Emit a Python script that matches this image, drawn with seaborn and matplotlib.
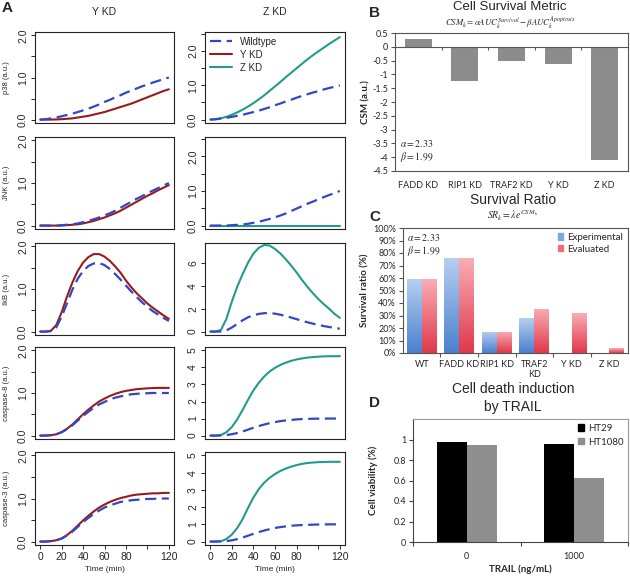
import numpy as np
import pandas as pd
import seaborn as sns
import matplotlib.pyplot as plt
from matplotlib.colors import LinearSegmentedColormap, to_hex
from matplotlib.lines import Line2D
from matplotlib.patches import Patch
from matplotlib.ticker import FuncFormatter, PercentFormatter

# --- panel A: simulated time courses (a.u.) ---
time_min = [0, 5, 10, 15, 20, 25, 30, 35, 40, 45, 50, 55, 60,
            65, 70, 75, 80, 85, 90, 95, 100, 105, 110, 115, 120]

wt_p38 = [0.00, 0.01, 0.03, 0.05, 0.08, 0.11, 0.14, 0.18, 0.22, 0.26, 0.31, 0.36, 0.42,
          0.47, 0.53, 0.58, 0.64, 0.69, 0.74, 0.79, 0.83, 0.88, 0.92, 0.96, 1.00]
ykd_p38 = [0.00, 0.00, 0.00, 0.005, 0.01, 0.02, 0.03, 0.05, 0.07, 0.09, 0.12, 0.15, 0.18,
           0.22, 0.26, 0.30, 0.34, 0.38, 0.43, 0.48, 0.53, 0.58, 0.63, 0.68, 0.72]
zkd_p38 = [0.00, 0.01, 0.04, 0.08, 0.14, 0.21, 0.29, 0.38, 0.48, 0.59, 0.71, 0.84, 0.97,
           1.10, 1.24, 1.37, 1.50, 1.63, 1.76, 1.88, 1.99, 2.10, 2.21, 2.31, 2.41]

wt_jnk = [0.00, 0.00, 0.00, 0.00, 0.01, 0.02, 0.03, 0.05, 0.08, 0.11, 0.15, 0.19, 0.24,
          0.29, 0.35, 0.42, 0.49, 0.56, 0.63, 0.69, 0.76, 0.82, 0.88, 0.94, 1.00]
ykd_jnk = [0.00, 0.00, 0.00, 0.00, 0.00, 0.01, 0.02, 0.03, 0.05, 0.08, 0.11, 0.15, 0.19,
           0.24, 0.29, 0.35, 0.42, 0.49, 0.56, 0.63, 0.70, 0.76, 0.83, 0.89, 0.95]
zkd_jnk = [0.00, 0.00, 0.00, 0.00, 0.00, 0.00, 0.00, 0.00, 0.00, 0.00, 0.00, 0.00, 0.00,
           0.00, 0.00, 0.00, 0.00, 0.00, 0.00, 0.00, 0.00, 0.00, 0.00, 0.00, 0.00]

wt_ikb = [0.00, 0.00, 0.01, 0.10, 0.35, 0.66, 0.98, 1.24, 1.42, 1.54, 1.60, 1.61, 1.56,
          1.47, 1.35, 1.22, 1.08, 0.94, 0.81, 0.69, 0.58, 0.48, 0.40, 0.32, 0.25]
ykd_ikb = [0.00, 0.00, 0.02, 0.15, 0.45, 0.82, 1.15, 1.42, 1.62, 1.75, 1.82, 1.82, 1.76,
           1.66, 1.53, 1.38, 1.20, 1.04, 0.90, 0.78, 0.66, 0.56, 0.47, 0.38, 0.30]
zkd_ikb = [0.00, 0.00, 0.15, 1.10, 2.60, 3.90, 5.00, 6.00, 6.80, 7.30, 7.55, 7.50, 7.20,
           6.80, 6.30, 5.75, 5.15, 4.50, 3.90, 3.35, 2.85, 2.40, 2.00, 1.55, 1.20]

wt_casp8 = [0.00, 0.00, 0.01, 0.03, 0.08, 0.15, 0.24, 0.35, 0.46, 0.56, 0.65, 0.73, 0.79,
            0.85, 0.89, 0.92, 0.95, 0.97, 0.98, 0.99, 0.995, 1.00, 1.00, 1.00, 1.00]
ykd_casp8 = [0.00, 0.00, 0.01, 0.03, 0.08, 0.16, 0.26, 0.38, 0.50, 0.61, 0.71, 0.80, 0.87,
             0.93, 0.98, 1.02, 1.05, 1.07, 1.09, 1.10, 1.11, 1.115, 1.12, 1.12, 1.12]
zkd_casp8 = [0.00, 0.00, 0.03, 0.20, 0.50, 0.95, 1.50, 2.10, 2.65, 3.10, 3.47, 3.76, 3.98,
             4.15, 4.28, 4.39, 4.47, 4.53, 4.58, 4.61, 4.63, 4.65, 4.66, 4.66, 4.66]

wt_casp3 = [0.00, 0.00, 0.01, 0.03, 0.07, 0.14, 0.23, 0.34, 0.45, 0.55, 0.64, 0.72, 0.79,
            0.84, 0.88, 0.92, 0.94, 0.96, 0.97, 0.98, 0.99, 0.99, 1.00, 1.00, 1.00]
ykd_casp3 = [0.00, 0.00, 0.01, 0.03, 0.07, 0.15, 0.25, 0.37, 0.49, 0.60, 0.70, 0.79, 0.86,
             0.92, 0.97, 1.01, 1.04, 1.07, 1.09, 1.10, 1.11, 1.12, 1.12, 1.13, 1.13]
zkd_casp3 = [0.00, 0.00, 0.02, 0.15, 0.40, 0.78, 1.30, 1.95, 2.55, 3.05, 3.42, 3.70, 3.92,
             4.10, 4.24, 4.35, 4.44, 4.51, 4.56, 4.59, 4.61, 4.62, 4.63, 4.63, 4.63]

# --- panel B: cell survival metric ---
csm_labels = ['FADD KD', 'RIP1 KD', 'TRAF2 KD', 'Y KD', 'Z KD']
csm_values = [0.28, -1.25, -0.52, -0.62, -4.10]

# --- panel C: survival ratio ---
sr_labels = ['WT', 'FADD KD', 'RIP1 KD', 'TRAF2\nKD', 'Y KD', 'Z KD']
sr_experimental = [0.59, 0.76, 0.17, 0.28, 0.0, 0.0]
sr_evaluated = [0.59, 0.76, 0.17, 0.355, 0.32, 0.04]

# --- panel D: TRAIL ---
trail_doses = ['0', '1000']
ht29_viability = [0.975, 0.96]
ht1080_viability = [0.945, 0.625]

sns.set_theme(style="ticks")
plt.rcParams['font.family'] = ['Liberation Sans', 'DejaVu Sans']
plt.rcParams['mathtext.fontset'] = 'stix'
excel_font = ['Lato', 'DejaVu Sans']

W, H = 630, 581
fig = plt.figure(figsize=(6.3, 5.81), dpi=100)


def px_axes(left, top, right, bottom):
    return fig.add_axes([left / W, 1 - bottom / H, (right - left) / W, (bottom - top) / H])


def fig_text(x, y, s, **kw):
    kw.setdefault('ha', 'center')
    kw.setdefault('va', 'center')
    fig.text(x / W, 1 - y / H, s, **kw)


# ================= panel A =================
wt_color = '#3347c4'
ykd_color = '#961c1c'
zkd_color = '#259a8c'
dash = (0, (5, 2.5))

a_rows = [
    ('p38 (a.u.)', wt_p38, ykd_p38, zkd_p38),
    ('JNK (a.u.)', wt_jnk, ykd_jnk, zkd_jnk),
    ('IkB (a.u.)', wt_ikb, ykd_ikb, zkd_ikb),
    ('caspase-8 (a.u.)', wt_casp8, ykd_casp8, zkd_casp8),
    ('caspase-3 (a.u.)', wt_casp3, ykd_casp3, zkd_casp3),
]
row_px = [(32, 123), (137, 229), (243, 335), (347, 439), (452, 545)]
left_scale = ((-0.08, 2.08), [0, 0.5, 1, 1.5, 2], ['0.0', '', '1.0', '', '2.0'])
right_scales = [
    ((-0.1, 2.56), [0, 0.5, 1, 1.5, 2, 2.5], ['0.0', '', '1.0', '', '2.0', '']),
    ((-0.1, 2.56), [0, 0.5, 1, 1.5, 2, 2.5], ['0.0', '', '1.0', '', '2.0', '']),
    ((-0.3, 7.72), [0, 2, 4, 6], ['0', '2', '4', '6']),
    ((-0.2, 5.2), [0, 1, 2, 3, 4, 5], ['0', '1', '2', '3', '4', '5']),
    ((-0.2, 5.2), [0, 1, 2, 3, 4, 5], ['0', '1', '2', '3', '4', '5']),
]

for i, (ylab, wt, ykd, zkd) in enumerate(a_rows):
    top, bot = row_px[i]
    axL = px_axes(35, top, 174, bot)
    axR = px_axes(205, top, 345, bot)
    panels = [(axL, ykd, ykd_color, left_scale), (axR, zkd, zkd_color, right_scales[i])]
    for ax, other, col, (ylim, yt, ytl) in panels:
        sns.lineplot(x=time_min, y=other, color=col, linewidth=1.5, ax=ax)
        sns.lineplot(x=time_min, y=wt, color=wt_color, linewidth=1.6, linestyle=dash, ax=ax)
        ax.set_xlim(-4.8, 124.8)
        ax.set_ylim(*ylim)
        ax.set_yticks(yt)
        ax.set_yticklabels(ytl)
        ax.tick_params(axis='y', labelrotation=90, length=3, width=0.7, pad=2, labelsize=7.5)
        for lbl in ax.get_yticklabels():
            lbl.set_va('center')
        for sp in ax.spines.values():
            sp.set_color('#222222')
            sp.set_linewidth(0.8)
        ax.set_ylabel('')
        if i == 4:
            ax.set_xticks([0, 20, 40, 60, 80, 100, 120])
            ax.set_xticklabels(['0', '20', '40', '60', '80', '', '120'])
            ax.tick_params(axis='x', length=3, width=0.7, pad=2, labelsize=7.5)
            ax.set_xlabel('Time (min)', fontsize=6, labelpad=3)
        else:
            ax.set_xticks([])
    axL.set_ylabel(ylab, fontsize=5.5)
    axL.yaxis.set_label_coords(-0.18, 0.5)
    if i == 0:
        handles = [Line2D([], [], color=wt_color, lw=1.6, linestyle=dash),
                   Line2D([], [], color=ykd_color, lw=1.5),
                   Line2D([], [], color=zkd_color, lw=1.5)]
        axR.legend(handles, ['Wildtype', 'Y KD', 'Z KD'], loc='upper left', frameon=False,
                   fontsize=7, handlelength=2.3, handletextpad=0.8, labelspacing=0.3,
                   borderaxespad=0.3, borderpad=0.2)

fig_text(7, 8, 'A', fontsize=11, fontweight='bold')
fig_text(104, 12, 'Y KD', fontsize=7.5)
fig_text(275, 12, 'Z KD', fontsize=7.5)

# ================= panel B =================
frame_col = '#555555'
axB = px_axes(395, 33, 628, 171)
sns.barplot(x=csm_labels, y=csm_values, color='#8c8c8c', saturation=1, width=0.58,
            linewidth=0, ax=axB)
axB.axhline(0, color=frame_col, lw=0.8)
axB.vlines([0.5, 1.5, 2.5, 3.5], -0.1, 0, color=frame_col, lw=0.8)
axB.set_xlim(-0.5, 4.5)
axB.set_ylim(-4.5, 0.5)
axB.set_yticks([0.5, 0, -0.5, -1, -1.5, -2, -2.5, -3, -3.5, -4, -4.5])
axB.yaxis.set_major_formatter(FuncFormatter(lambda v, p: f'{v:g}'))
axB.tick_params(axis='x', length=0, pad=7, labelsize=6.5, labelfontfamily=excel_font)
axB.tick_params(axis='y', length=3, width=0.8, color=frame_col, pad=2, labelsize=6.5,
                labelfontfamily=excel_font)
axB.set_ylabel('CSM (a.u.)', fontsize=7, fontweight='bold', family=excel_font)
axB.yaxis.set_label_coords(-0.107, 0.5)
for sp in axB.spines.values():
    sp.set_color(frame_col)
    sp.set_linewidth(0.8)
axB.text(0.02, 0.05, r'$\alpha = 2.33$' + '\n' + r'$\beta = 1.99$', transform=axB.transAxes,
         fontsize=7, ha='left', va='bottom', linespacing=1.1)

fig_text(375, 13, 'B', fontsize=11, fontweight='bold')
fig_text(510, 7, 'Cell Survival Metric', fontsize=9.5)
fig_text(510, 23.5, r'$CSM_k = \alpha AUC_k^{Survival} - \beta AUC_k^{Apoptosis}$', fontsize=6.3)

# ================= panel C =================
sr_df = pd.DataFrame({
    'genotype': sr_labels * 2,
    'series': ['Experimental'] * len(sr_labels) + ['Evaluated'] * len(sr_labels),
    'ratio': sr_experimental + sr_evaluated,
})
sr_palette = {'Experimental': '#7fa6de', 'Evaluated': '#ec6f7b'}
axC = px_axes(403, 228, 628, 353)
sns.barplot(data=sr_df, x='genotype', y='ratio', hue='series', palette=sr_palette,
            saturation=1, linewidth=0, legend=False, ax=axC)

grad = np.linspace(0, 1, 128).reshape(-1, 1)
grad_maps = {
    to_hex(sr_palette['Experimental']): LinearSegmentedColormap.from_list('exp', ['#4a80cf', '#b6cff0']),
    to_hex(sr_palette['Evaluated']): LinearSegmentedColormap.from_list('ev', ['#e0384a', '#f9adb5']),
}
for patch in list(axC.patches):
    h = patch.get_height()
    key = to_hex(patch.get_facecolor())
    if h <= 0 or key not in grad_maps:
        continue
    x0 = patch.get_x()
    im = axC.imshow(grad, cmap=grad_maps[key], origin='lower', aspect='auto',
                    extent=[x0, x0 + patch.get_width(), 0, h], zorder=patch.get_zorder() + 0.1)
    im.set_clip_path(patch)

axC.set_xlim(-0.5, 5.5)
axC.set_ylim(0, 1)
axC.set_aspect('auto')
axC.set_yticks([0, 0.1, 0.2, 0.3, 0.4, 0.5, 0.6, 0.7, 0.8, 0.9, 1.0])
axC.yaxis.set_major_formatter(PercentFormatter(xmax=1, decimals=0))
axC.set_xticks([0.5, 1.5, 2.5, 3.5, 4.5], minor=True)
axC.tick_params(axis='x', which='major', length=0, pad=5, labelsize=6.5,
                labelfontfamily=excel_font)
axC.tick_params(axis='x', which='minor', length=3, width=0.8, color=frame_col)
axC.tick_params(axis='y', length=3, width=0.8, color=frame_col, pad=2, labelsize=6.5,
                labelfontfamily=excel_font)
axC.set_xlabel('')
axC.set_ylabel('Survival ratio (%)', fontsize=7, fontweight='bold', family=excel_font)
axC.yaxis.set_label_coords(-0.147, 0.5)
for sp in axC.spines.values():
    sp.set_color(frame_col)
    sp.set_linewidth(0.8)
axC.text(0.02, 0.97, r'$\alpha = 2.33$' + '\n' + r'$\beta = 1.99$', transform=axC.transAxes,
         fontsize=7, ha='left', va='top', linespacing=1.1)
c_handles = [Patch(color='#7fa6de'), Patch(color='#ec6f7b')]
axC.legend(c_handles, ['Experimental', 'Evaluated'], loc='upper right', frameon=False,
           prop={'family': excel_font, 'size': 7}, handlelength=0.6, handleheight=0.6,
           handletextpad=0.4, labelspacing=0.3, borderaxespad=0.3, borderpad=0.2)

fig_text(375, 217, 'C', fontsize=11, fontweight='bold')
fig_text(513, 200, 'Survival Ratio', fontsize=10)
fig_text(513, 216, r'$SR_k = \lambda e^{CSM_k}$', fontsize=7)

# ================= panel D =================
trail_df = pd.DataFrame({
    'dose': trail_doses * 2,
    'line': ['HT29'] * 2 + ['HT1080'] * 2,
    'viability': ht29_viability + ht1080_viability,
})
axD = px_axes(413, 419, 628, 542)
sns.barplot(data=trail_df, x='dose', y='viability', hue='line',
            palette=['#000000', '#8e8e8e'], saturation=1, width=0.56, linewidth=0,
            legend=False, ax=axD)
axD.set_xlim(-0.5, 1.5)
axD.set_ylim(0, 1.2)
axD.set_yticks([0, 0.2, 0.4, 0.6, 0.8, 1.0])
axD.yaxis.set_major_formatter(FuncFormatter(lambda v, p: f'{v:g}'))
axD.set_xticks([-0.5, 0.5, 1.5], minor=True)
axD.tick_params(axis='x', which='major', length=0, pad=7, labelsize=6.5,
                labelfontfamily=excel_font)
axD.tick_params(axis='x', which='minor', length=3, width=0.8, color='#444444')
axD.tick_params(axis='y', length=3, width=0.8, color='#444444', pad=2, labelsize=6.5,
                labelfontfamily=excel_font)
axD.set_xlabel('TRAIL (ng/mL)', fontsize=7, fontweight='bold', family=excel_font, labelpad=3)
axD.set_ylabel('Cell viability (%)', fontsize=7, fontweight='bold', family=excel_font)
axD.yaxis.set_label_coords(-0.163, 0.5)
for name, sp in axD.spines.items():
    sp.set_linewidth(0.8)
    sp.set_color('#444444' if name in ('left', 'bottom') else '#9a9a9a')
d_handles = [Patch(color='#000000'), Patch(color='#8e8e8e')]
axD.legend(d_handles, ['HT29', 'HT1080'], loc='upper right', frameon=False,
           prop={'family': excel_font, 'size': 7}, handlelength=0.6, handleheight=0.6,
           handletextpad=0.4, labelspacing=0.5, borderaxespad=0.3, borderpad=0.2)

fig_text(375, 403, 'D', fontsize=11, fontweight='bold')
fig_text(513, 398, 'Cell death induction\nby TRAIL', fontsize=10, linespacing=1.35)

fig.savefig('out.png', dpi=100)
